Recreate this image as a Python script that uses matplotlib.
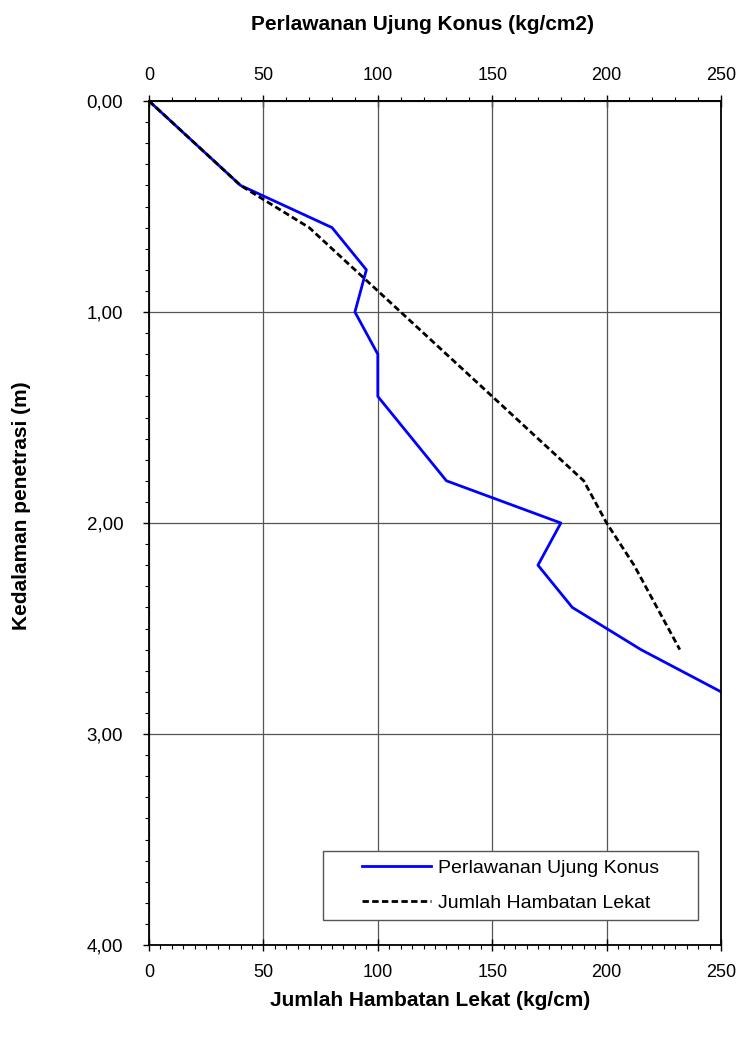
import numpy as np
import matplotlib.pyplot as plt
from matplotlib.ticker import MultipleLocator, FuncFormatter
from matplotlib.patches import Rectangle

# kedalaman (m)
kedalaman = [0.0, 0.2, 0.4, 0.6, 0.8, 1.0, 1.2, 1.4, 1.6, 1.8, 2.0, 2.2, 2.4, 2.6, 2.8]
# perlawanan ujung konus (kg/cm2)
konus = [0, 20, 40, 80, 95, 90, 100, 100, 115, 130, 180, 170, 185, 215, 250]
# jumlah hambatan lekat (kg/cm)
kedalaman_jhl = [0.0, 0.2, 0.4, 0.6, 0.8, 1.0, 1.2, 1.4, 1.6, 1.8, 2.0, 2.2, 2.4, 2.6]
jhl = [0, 20, 40, 70, 90, 110, 130, 150, 170, 190, 200, 212, 222, 232]

plt.rcParams['font.family'] = ['Liberation Sans', 'DejaVu Sans']

W, H = 742, 1039
fig = plt.figure(figsize=(W / 100, H / 100), dpi=100)
ax = fig.add_axes([149/W, 1 - 945/H, 572/W, 844/H])

ax.plot(konus, kedalaman, color='#0000ff', lw=2, label='Perlawanan Ujung Konus')
ax.plot(jhl, kedalaman_jhl, color='black', lw=2, ls=(0, (2.3, 1.2)),
        label='Jumlah Hambatan Lekat')

ax.set_xlim(0, 250)
ax.set_ylim(4, 0)
ax.xaxis.set_major_locator(MultipleLocator(50))
ax.xaxis.set_minor_locator(MultipleLocator(5))
ax.yaxis.set_major_locator(MultipleLocator(1))
ax.yaxis.set_minor_locator(MultipleLocator(0.1))
ax.yaxis.set_major_formatter(FuncFormatter(lambda v, p: f'{v:.2f}'.replace('.', ',')))
ax.grid(True, which='major', color='#555555', lw=0.9)
ax.tick_params(axis='x', which='major', length=8, width=1, labelsize=13,
               direction='inout', pad=9.5)
ax.tick_params(axis='y', which='major', length=4, width=1, labelsize=13.5,
               direction='out', pad=14.5)
ax.tick_params(which='minor', length=3, width=0.8, direction='out')
for s in ax.spines.values():
    s.set_linewidth(1.3)

top = ax.secondary_xaxis('top')
top.xaxis.set_major_locator(MultipleLocator(50))
top.xaxis.set_minor_locator(MultipleLocator(10))
top.tick_params(which='major', length=8, width=1, labelsize=13,
                direction='inout', pad=8)
top.tick_params(which='minor', length=3, width=0.8, direction='out')
top.spines['top'].set_linewidth(1.3)

fig.text(422.5/W, 1 - 25/H, 'Perlawanan Ujung Konus (kg/cm2)',
         fontsize=15, fontweight='bold', ha='center', va='center')
fig.text(430/W, 1 - 1000/H, 'Jumlah Hambatan Lekat (kg/cm)',
         fontsize=15, fontweight='bold', ha='center', va='center')
fig.text(22/W, 1 - 506/H, 'Kedalaman penetrasi (m)', rotation=90,
         fontsize=15, fontweight='bold', ha='center', va='center')

# kotak legenda
ax.add_patch(Rectangle((0.304, 0.0296), 0.656, 0.0818, transform=ax.transAxes,
                       facecolor='white', edgecolor='#555555', lw=1, zorder=4))
leg = ax.legend(loc='center', bbox_to_anchor=(0.632, 0.0705), frameon=False,
                fontsize=14, handlelength=3.55, handletextpad=0.4,
                labelspacing=0.9, borderpad=0)
leg.set_zorder(5)

fig.savefig('out.png', dpi=100)
